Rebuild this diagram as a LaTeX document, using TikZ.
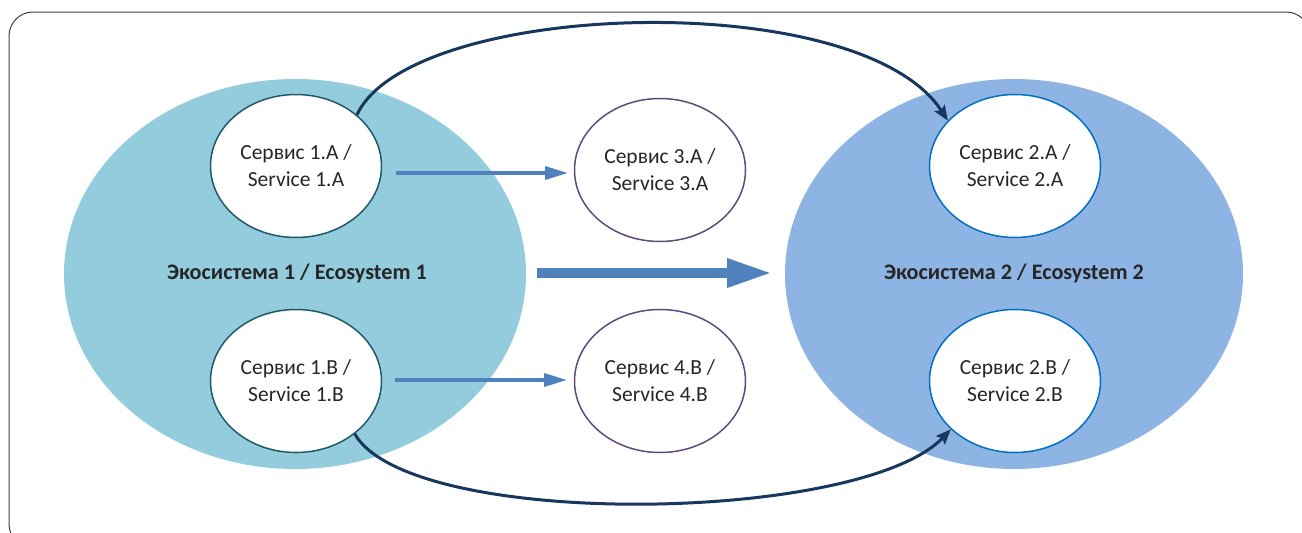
\documentclass[tikz,border=0pt]{standalone}
\usepackage{fontspec}
\setmainfont{Carlito}
\usetikzlibrary{shapes.geometric,arrows.meta}
\definecolor{ecoone}{HTML}{93CDDD}
\definecolor{ecotwo}{HTML}{8EB4E3}
\definecolor{tealline}{HTML}{215968}
\definecolor{purpline}{HTML}{604A7B}
\definecolor{blueline}{HTML}{0070C0}
\definecolor{arrowblue}{HTML}{4F81BD}
\definecolor{navy}{HTML}{17375E}
\definecolor{txt}{HTML}{262626}
\tikzset{
  eco/.style={ellipse, minimum width=462pt, minimum height=390pt, inner sep=0pt, draw=none},
  svc/.style={ellipse, fill=white, minimum width=171pt, minimum height=143pt, inner sep=0pt, line width=1.5pt, align=center, text=txt, font=\fontsize{21.5}{27}\selectfont},
  ecolabel/.style={text=txt, font=\fontsize{22.2}{26}\selectfont\bfseries},
  thinarrow/.style={draw=arrowblue, line width=3.5pt, -{Triangle[length=23pt,width=13pt]}},
  bigarrow/.style={draw=arrowblue, line width=9.5pt, -{Triangle[length=45pt,width=27pt]}},
  curvearrow/.style={draw=navy, line width=3pt, -{Stealth[length=15pt,width=12pt,inset=2.5pt]}}
}
\begin{document}
\begin{tikzpicture}[x=1pt,y=-1pt]
\clip (0,0) rectangle (1302,533);
\draw[draw=black!75, line width=1pt, rounded corners=24pt] (9,12) rectangle (1310,548);
% ecosystems
\node[eco, fill=ecoone] (e1) at (295,274) {};
\node[eco, fill=ecotwo, minimum width=458pt] (e2) at (1014,274) {};
\node[ecolabel] (l1) at (297,273) {Экосистема 1 / Ecosystem 1};
\node[ecolabel] (l2) at (1014,273) {Экосистема 2 / Ecosystem 2};
% services
\node[svc, draw=tealline] (s1a) at (296,166) {Сервис 1.A /\\Service 1.A};
\node[svc, draw=tealline] (s1b) at (296,381) {Сервис 1.B /\\Service 1.B};
\node[svc, draw=purpline] (s3a) at (660,170) {Сервис 3.A /\\Service 3.A};
\node[svc, draw=purpline] (s4b) at (660,381) {Сервис 4.B /\\Service 4.B};
\node[svc, draw=blueline] (s2a) at (1015,166) {Сервис 2.A /\\Service 2.A};
\node[svc, draw=blueline] (s2b) at (1015,381) {Сервис 2.B /\\Service 2.B};
% straight arrows
\coordinate (a1s) at (396,173);
\coordinate (a1e) at (568,173);
\coordinate (a2s) at (395,380);
\coordinate (a2e) at (567,380);
\coordinate (bs) at (537,273);
\coordinate (be) at (772,273);
\draw[thinarrow] (a1s) -- (a1e);
\draw[thinarrow] (a2s) -- (a2e);
\draw[bigarrow] (bs) -- (be);
% curved arrows
\draw[curvearrow] (s1a.40) .. controls (410,0) and (860,-15) .. (s2a.146);
\draw[curvearrow] (s1b.-42) .. controls (410,530) and (860,524) .. (s2b.-143);
\end{tikzpicture}
\end{document}
